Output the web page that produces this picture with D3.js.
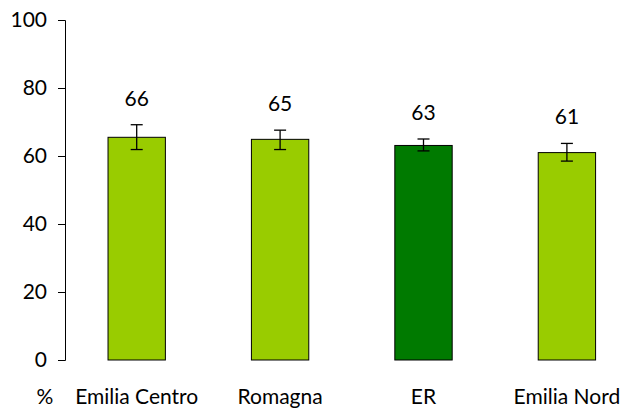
<!DOCTYPE html>
<html><head><meta charset="utf-8">
<script src="https://cdn.jsdelivr.net/npm/d3@7"></script>
<style>body{margin:0;background:#fff}svg{display:block}text{font-family:Lato,"Open Sans",sans-serif;fill:#000}</style>
</head><body><svg id="c" width="627" height="408"></svg>
<script>
const categories = ["Emilia Centro", "Romagna", "ER", "Emilia Nord"];
const values = [65.5, 64.9, 63.1, 61.0];
const labels = ["66", "65", "63", "61"];
const errLow = [61.9, 61.9, 61.5, 58.5];
const errHigh = [69.2, 67.6, 65.0, 63.7];
const colors = ["#99cc00", "#99cc00", "#007a00", "#99cc00"];
const yTicks = [0, 20, 40, 60, 80, 100];

const svg = d3.select("#c");
const y = d3.scaleLinear().domain([0, 100]).range([360, 20]);
const x = d3.scaleBand().domain(categories).range([65, 638.6]).paddingInner(0.6).paddingOuter(0.3);

const yAxis = d3.axisLeft(y).tickValues(yTicks).tickSize(7).tickPadding(11);
const gy = svg.append("g").attr("transform", "translate(65,0)").call(yAxis);
gy.select(".domain").attr("stroke", "#000").attr("d", "M-7,20.5H0.5V360.5H-7");
gy.selectAll(".tick line").attr("stroke", "#000");
gy.selectAll(".tick text").style("font-size", "21px").style("font-family", "Lato, sans-serif");

const data = categories.map((c, i) => ({c, v: values[i], lab: labels[i], lo: errLow[i], hi: errHigh[i], col: colors[i]}));

svg.selectAll("rect.bar").data(data).join("rect").attr("class", "bar")
  .attr("x", d => x(d.c)).attr("width", x.bandwidth())
  .attr("y", d => y(d.v)).attr("height", d => y(0) - y(d.v))
  .attr("fill", d => d.col).attr("stroke", "#000").attr("stroke-width", 1);

const eb = svg.selectAll("g.err").data(data).join("g").attr("class", "err")
  .attr("transform", d => `translate(${x(d.c) + x.bandwidth() / 2},0)`);
eb.append("line").attr("y1", d => y(d.lo)).attr("y2", d => y(d.hi)).attr("stroke", "#000").attr("stroke-width", 1.3);
eb.append("line").attr("x1", -6).attr("x2", 6).attr("y1", d => y(d.hi)).attr("y2", d => y(d.hi)).attr("stroke", "#000").attr("stroke-width", 1.3);
eb.append("line").attr("x1", -6).attr("x2", 6).attr("y1", d => y(d.lo)).attr("y2", d => y(d.lo)).attr("stroke", "#000").attr("stroke-width", 1.3);

svg.selectAll("text.val").data(data).join("text").attr("class", "val")
  .attr("x", d => x(d.c) + x.bandwidth() / 2).attr("y", d => y(d.hi) - 19)
  .attr("text-anchor", "middle").style("font-size", "21px").text(d => d.lab);

svg.selectAll("text.cat").data(data).join("text").attr("class", "cat")
  .attr("x", d => x(d.c) + x.bandwidth() / 2).attr("y", 404)
  .attr("text-anchor", "middle").style("font-size", "21px").text(d => d.c);

svg.append("text").attr("x", 45).attr("y", 404).attr("text-anchor", "middle").style("font-size", "21px").text("%");
</script></body></html>
